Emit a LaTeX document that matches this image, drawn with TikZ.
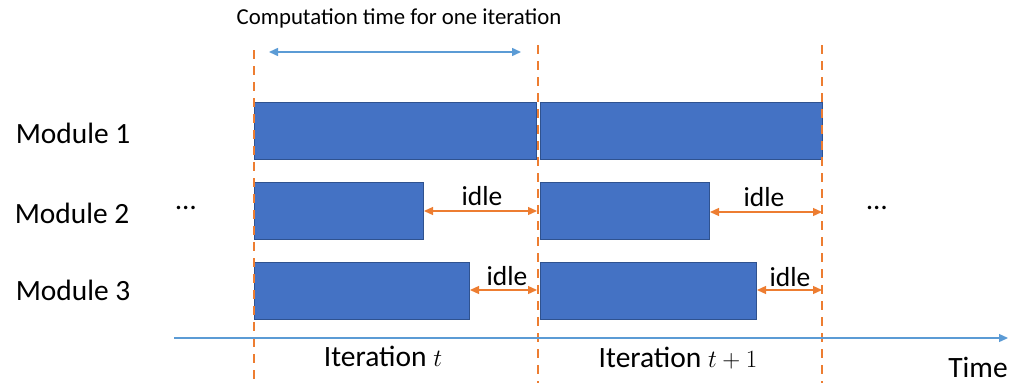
\documentclass[tikz,border=0pt]{standalone}
\usepackage{fontspec}
\setmainfont{Carlito}
\usetikzlibrary{arrows.meta}
\definecolor{barfill}{HTML}{4472C4}
\definecolor{bardraw}{HTML}{2F528F}
\definecolor{orng}{HTML}{ED7D31}
\definecolor{lblue}{HTML}{5B9BD5}
\tikzset{
  bar/.style={fill=barfill,draw=bardraw,line width=1pt,anchor=north west,inner sep=0,minimum height=57pt},
  sep/.style={orng,line width=2.5pt,dash pattern=on 9pt off 7pt},
  idlearrow/.style={orng,line width=1.3pt,{Triangle[length=9pt,width=8pt]}-{Triangle[length=9pt,width=8pt]}},
  lbl/.style={font=\fontsize{29.4}{31}\selectfont,inner sep=0},
  itlbl/.style={font=\fontsize{29.5}{31}\selectfont,inner sep=0,anchor=base},
  idlelbl/.style={font=\fontsize{27.5}{29}\selectfont,inner sep=0},
  dotslbl/.style={font=\fontsize{29}{31}\selectfont,inner sep=0},
}
\begin{document}
\begin{tikzpicture}[x=1pt,y=-1pt]
\useasboundingbox (0,0) rectangle (1023,383);
% bars
\node[bar,minimum width=282pt] (a1) at (254,102) {};
\node[bar,minimum width=282pt] (b1) at (540,102) {};
\node[bar,minimum width=169pt] (a2) at (254,182) {};
\node[bar,minimum width=169pt] (b2) at (540,182) {};
\node[bar,minimum width=215pt] (a3) at (254,262) {};
\node[bar,minimum width=216pt] (b3) at (540,262) {};
% dashed separators
\coordinate (s1t) at (254,50); \coordinate (s1b) at (254,383);
\coordinate (s2t) at (538,45); \coordinate (s2b) at (538,383);
\coordinate (s3t) at (822,45); \coordinate (s3b) at (822,383);
\draw[sep] (s1t) -- (s1b);
\draw[sep] (s2t) -- (s2b);
\draw[sep] (s3t) -- (s3b);
% time axis
\coordinate (ax0) at (174,338); \coordinate (ax1) at (1008,338);
\draw[lblue,line width=1.3pt,-{Triangle[length=9pt,width=8pt]}] (ax0) -- (ax1);
% computation arrow
\coordinate (c0) at (269,52); \coordinate (c1) at (521,52);
\draw[lblue,line width=1.5pt,{Triangle[length=9pt,width=8pt]}-{Triangle[length=9pt,width=8pt]}] (c0) -- (c1);
\node[font=\fontsize{22.8}{24}\selectfont,inner sep=0] (ct) at (399,18) {Computation time for one iteration};
% idle arrows
\coordinate (i2a) at (537,211); \coordinate (i3a) at (537,290);
\coordinate (i2b) at (822,212); \coordinate (i3b) at (822,290);
\draw[idlearrow] (a2.east |- i2a) -- (i2a);
\draw[idlearrow] (a3.east |- i3a) -- (i3a);
\draw[idlearrow] (b2.east |- i2b) -- (i2b);
\draw[idlearrow] (b3.east |- i3b) -- (i3b);
\node[idlelbl] (l2a) at (482,196) {idle};
\node[idlelbl] (l3a) at (507,276) {idle};
\node[idlelbl] (l2b) at (764,197) {idle};
\node[idlelbl] (l3b) at (790,277) {idle};
% module labels
\node[lbl] (m1) at (73,133) {Module 1};
\node[lbl] (m2) at (72,213) {Module 2};
\node[lbl] (m3) at (73,290) {Module 3};
\node[dotslbl] (d1) at (186,208) {\dots};
\node[dotslbl] (d2) at (877,208) {\dots};
% iteration labels
\node[itlbl] (it1) at (383,366) {Iteration $t$};
\node[itlbl] (it2) at (678,367) {Iteration $t+1$};
\node[itlbl,text depth=0pt] (tm) at (978,377) {Time};
\end{tikzpicture}
\end{document}
